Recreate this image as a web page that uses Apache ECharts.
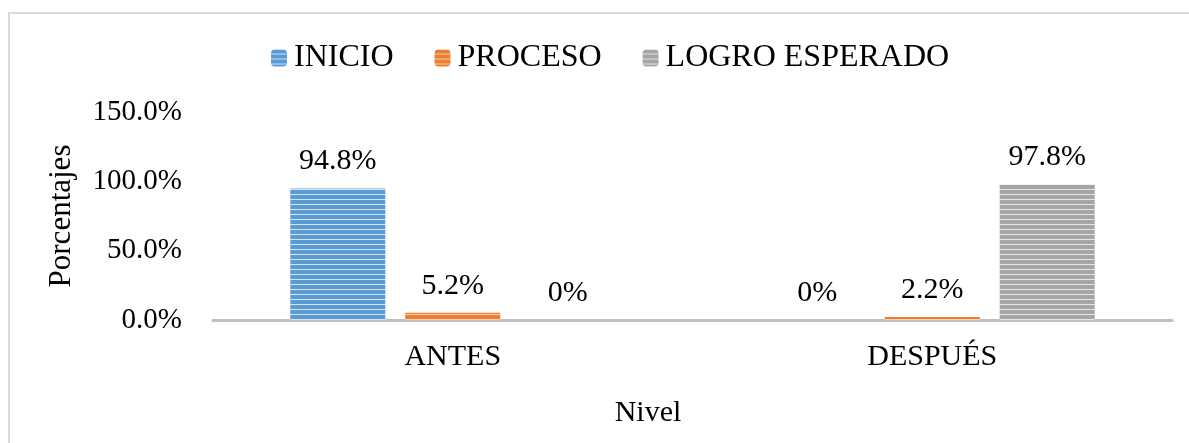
<!DOCTYPE html>
<html>
<head>
<meta charset="utf-8">
<script src="https://cdn.jsdelivr.net/npm/echarts@6/dist/echarts.min.js"></script>
<style>
  html, body { margin: 0; padding: 0; background: #fff; }
  #chart { width: 1189px; height: 443px; }
</style>
</head>
<body>
<div id="chart"></div>
<script>
var categories = ['ANTES', 'DESPUÉS'];
var seriesNames = ['INICIO', 'PROCESO', 'LOGRO ESPERADO'];
var inicio = [94.8, 0];
var proceso = [5.2, 2.2];
var logro = [0, 97.8];
var yTicks = [0, 50, 100, 150];

var FONT = "'Liberation Serif', 'Times New Roman', serif";

// striped fill like the office chart
function stripes(base, light) {
  var c = document.createElement('canvas');
  c.width = 4; c.height = 5;
  var ctx = c.getContext('2d');
  ctx.fillStyle = base;
  ctx.fillRect(0, 0, 4, 5);
  ctx.fillStyle = light;
  ctx.fillRect(0, 4, 4, 1);
  return { image: c, repeat: 'repeat' };
}

function pct(v) {
  return v === 0 ? '0%' : v.toFixed(1) + '%';
}

var chart = echarts.init(document.getElementById('chart'));

function bar(name, data, fill) {
  return {
    name: name,
    type: 'bar',
    data: data,
    barWidth: 95,
    barGap: '21%',
    itemStyle: { color: fill },
    label: {
      show: true,
      position: 'top',
      distance: 12,
      color: '#000',
      fontFamily: FONT,
      fontSize: 30,
      formatter: function (p) { return pct(p.value); }
    }
  };
}

var option = {
  backgroundColor: '#fff',
  animation: false,
  textStyle: { fontFamily: FONT },
  legend: {
    data: seriesNames,
    left: 266,
    top: 37,
    itemWidth: 16,
    itemHeight: 17,
    itemGap: 41,
    textStyle: { fontFamily: FONT, fontSize: 32, color: '#000', padding: [0, 0, 0, 2] }
  },
  grid: { left: 213, right: 17, top: 112, bottom: 123 },
  xAxis: {
    type: 'category',
    data: categories,
    axisTick: { show: false },
    axisLine: { lineStyle: { color: '#bfbfbf', width: 3 } },
    axisLabel: { color: '#000', fontFamily: FONT, fontSize: 30, margin: 22 }
  },
  yAxis: {
    type: 'value',
    min: yTicks[0],
    max: yTicks[yTicks.length - 1],
    interval: 50,
    splitLine: { show: false },
    axisLine: { show: false },
    axisTick: { show: false },
    axisLabel: {
      color: '#000', fontFamily: FONT, fontSize: 29, margin: 31,
      formatter: function (v) { return v.toFixed(1) + '%'; }
    }
  },
  graphic: [
    {
      type: 'rect',
      silent: true,
      shape: { x: 9, y: 13, width: 1300, height: 600 },
      style: { fill: null, stroke: '#d9d9d9', lineWidth: 2 }
    },
    {
      type: 'text',
      rotation: Math.PI / 2,
      x: 62, y: 216,
      style: { text: 'Porcentajes', fill: '#000', font: '31px ' + FONT, textAlign: 'center', textVerticalAlign: 'middle' }
    },
    {
      type: 'text',
      x: 648, y: 413,
      style: { text: 'Nivel', fill: '#000', font: '30px ' + FONT, textAlign: 'center', textVerticalAlign: 'middle' }
    }
  ],
  series: [
    bar(seriesNames[0], inicio, stripes('#5b9bd5', '#d4e4f4')),
    bar(seriesNames[1], proceso, stripes('#ed7d31', '#f9d3b8')),
    bar(seriesNames[2], logro, stripes('#a5a5a5', '#e6e6e6'))
  ]
};

chart.setOption(option);
</script>
</body>
</html>
